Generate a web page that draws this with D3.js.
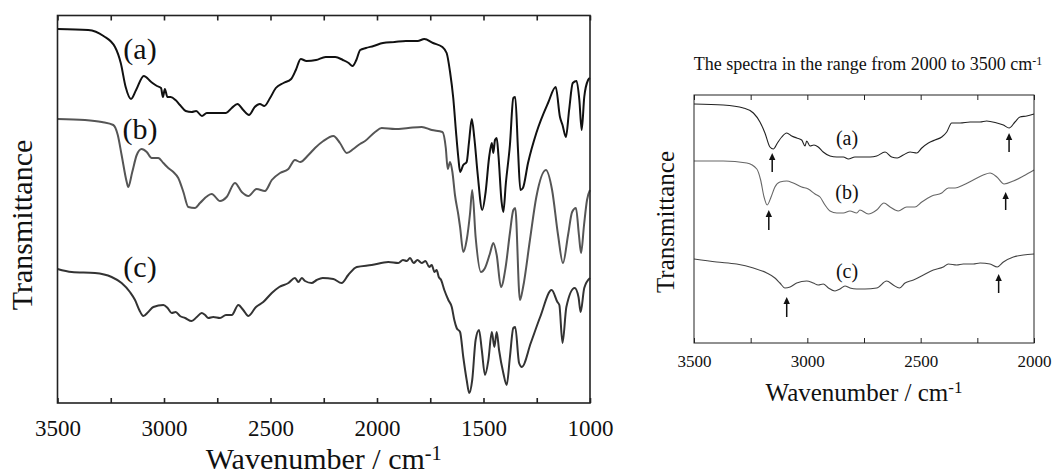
<!DOCTYPE html>
<html>
<head>
<meta charset="utf-8">
<script src="https://cdn.jsdelivr.net/npm/d3@7/dist/d3.min.js"></script>
<style>
  body { margin: 0; background: #fff; }
  svg text { font-family: "Liberation Serif", "Times New Roman", Times, serif; fill: #111; }
</style>
</head>
<body>
<svg id="chart" width="1055" height="474"></svg>
<script>
// full spectra, 3500-1000 cm-1 : [wavenumber, transmittance (a.u.)]
var fullA = [[3500,374],[3356,373],[3284,367],[3230,356],[3203,340],[3180,316],[3155,304],[3131,313],[3095,327],[3060,321],[3033,317],[3014,315],[3005,306],[2996,314],[2984,306],[2969,306],[2946,303],[2925,298],[2898,292],[2870,291],[2849,292],[2822,287],[2799,290],[2762,290],[2709,290],[2682,295],[2655,299],[2628,293],[2601,288],[2574,296],[2550,299],[2529,297],[2502,305],[2475,315],[2439,320],[2403,324],[2381,333],[2358,344],[2331,342],[2286,343],[2241,346],[2196,346],[2160,343],[2133,340],[2115,337],[2097,343],[2079,353],[2052,355],[2016,357],[1972,360],[1917,361],[1864,362],[1809,362],[1778,364],[1737,360],[1693,356],[1673,350],[1657,331],[1642,305],[1629,271],[1618,245],[1610,231],[1595,238],[1579,241],[1568,261],[1555,284],[1543,265],[1527,228],[1506,193],[1490,211],[1474,245],[1461,260],[1454,250],[1446,263],[1438,265],[1430,248],[1415,201],[1407,191],[1395,220],[1376,258],[1360,305],[1351,306],[1338,253],[1327,213],[1315,215],[1291,240],[1252,270],[1197,300],[1161,316],[1141,286],[1129,278],[1113,266],[1098,293],[1081,320],[1063,322],[1050,303],[1039,273],[1027,306],[1009,323],[1000,325]];

var fullB = [[3500,284],[3371,283],[3292,281],[3238,278],[3217,268],[3199,248],[3175,221],[3168,216],[3149,231],[3128,248],[3105,254],[3081,251],[3058,245],[3027,245],[3003,240],[2980,235],[2956,231],[2933,225],[2909,211],[2886,196],[2854,195],[2831,200],[2776,209],[2737,202],[2706,206],[2667,220],[2635,211],[2604,207],[2565,214],[2526,212],[2494,223],[2455,230],[2416,234],[2385,243],[2361,241],[2322,248],[2291,255],[2252,262],[2205,267],[2174,260],[2142,250],[2111,254],[2080,259],[2056,262],[2009,271],[1978,275],[1915,274],[1853,275],[1790,276],[1743,273],[1693,271],[1677,255],[1668,234],[1657,241],[1646,231],[1634,208],[1618,188],[1610,176],[1595,151],[1579,163],[1563,190],[1553,213],[1537,166],[1512,131],[1493,135],[1469,150],[1454,160],[1438,148],[1418,116],[1396,136],[1376,170],[1360,193],[1351,195],[1329,103],[1314,116],[1282,163],[1252,206],[1207,233],[1178,213],[1150,168],[1127,140],[1103,168],[1084,191],[1066,195],[1052,168],[1042,150],[1028,178],[1014,203],[1000,213]];

var fullC = [[3500,134],[3433,131],[3324,130],[3246,126],[3199,120],[3160,111],[3136,103],[3116,93],[3097,87],[3074,91],[3050,96],[3003,98],[2983,95],[2964,90],[2945,91],[2925,87],[2901,85],[2870,82],[2846,86],[2823,90],[2807,88],[2792,85],[2769,86],[2737,85],[2709,88],[2682,88],[2651,98],[2628,93],[2604,87],[2568,96],[2534,101],[2494,110],[2459,116],[2416,120],[2385,125],[2369,121],[2353,125],[2338,122],[2307,120],[2283,123],[2255,125],[2205,124],[2166,120],[2135,128],[2095,136],[2025,138],[1947,141],[1900,140],[1878,143],[1860,142],[1845,145],[1828,140],[1810,143],[1790,140],[1772,142],[1755,136],[1743,138],[1730,131],[1720,133],[1710,126],[1699,123],[1684,113],[1665,103],[1649,96],[1637,83],[1626,75],[1610,71],[1595,46],[1579,23],[1567,10],[1553,23],[1537,63],[1521,73],[1508,53],[1493,28],[1477,43],[1461,71],[1449,56],[1438,71],[1427,53],[1407,30],[1391,18],[1376,46],[1360,75],[1351,76],[1333,40],[1320,36],[1278,60],[1234,86],[1180,113],[1153,101],[1144,98],[1129,60],[1111,96],[1072,115],[1054,106],[1044,91],[1027,115],[1000,125]];

// expanded spectra, 3500-2000 cm-1
var zoomA = [[3500,239],[3371,238],[3282,235],[3238,230],[3209,221],[3187,210],[3165,196],[3150,194],[3132,200],[3113,206],[3091,210],[3069,207],[3047,205],[3025,203],[3010,197],[3003,202],[2988,197],[2971,198],[2952,196],[2930,191],[2900,187],[2870,186],[2841,186],[2819,184],[2790,186],[2768,186],[2723,186],[2694,187],[2657,191],[2628,186],[2603,185],[2577,188],[2547,191],[2517,190],[2495,195],[2466,200],[2437,203],[2407,206],[2385,211],[2363,220],[2326,220],[2282,221],[2238,221],[2209,222],[2164,220],[2135,218],[2110,215],[2084,221],[2062,226],[2032,227],[2000,229]];

var zoomB = [[3500,182],[3371,182],[3267,180],[3223,174],[3206,163],[3191,146],[3177,138],[3160,146],[3143,156],[3121,161],[3091,162],[3062,160],[3025,156],[2996,154],[2966,149],[2944,146],[2922,138],[2900,132],[2870,130],[2841,130],[2812,132],[2782,130],[2768,133],[2731,129],[2694,133],[2662,140],[2635,136],[2599,132],[2562,136],[2525,136],[2495,141],[2451,147],[2407,150],[2378,155],[2348,155],[2312,158],[2268,163],[2224,168],[2194,170],[2164,166],[2132,159],[2091,162],[2047,167],[2000,173]];

var zoomC = [[3500,84],[3400,81],[3312,79],[3238,75],[3179,70],[3143,65],[3121,60],[3099,55],[3076,56],[3047,60],[3003,62],[2974,60],[2952,58],[2930,59],[2907,55],[2878,52],[2856,54],[2834,57],[2812,55],[2782,54],[2746,54],[2694,55],[2650,62],[2621,58],[2594,55],[2569,60],[2532,63],[2488,68],[2444,73],[2400,76],[2378,79],[2341,78],[2312,79],[2268,79],[2238,80],[2194,79],[2162,76],[2135,81],[2091,86],[2047,88],[2000,89]];

// arrows in the expanded panel: wavenumber, tip and tail transmittance
var arrowWave = [3155, 2110, 3170, 2125, 3091, 2156];
var arrowTip  = [190, 210, 133, 151, 46, 69];
var arrowTail = [171, 191, 113, 133, 26, 50];

var leftTickLabels = [3500, 3000, 2500, 2000, 1500, 1000];
var rightTickLabels = [3500, 3000, 2500, 2000];
var seriesNames = ['(a)', '(b)', '(c)'];

var serif = '"Liberation Serif", "Times New Roman", Times, serif';
var svg = d3.select('#chart');

function addTitle(sel, size) {
  sel.style('font-size', size + 'px');
  sel.append('tspan').text('Wavenumber / cm');
  sel.append('tspan').attr('dy', '-0.45em').style('font-size', (size * 0.68) + 'px').text('-1');
}

function drawPanel(p) {
  var x = d3.scaleLinear().domain([3500, p.xEnd]).range([p.left, p.right]);
  var y = d3.scaleLinear().domain([0, p.yMax]).range([p.bottom, p.top]);
  var g = svg.append('g');

  // minor + major ticks, inward, top and bottom
  var allTicks = d3.range(3500, p.xEnd - 1, -250);
  g.append('g')
    .attr('transform', 'translate(0,' + p.bottom + ')')
    .call(d3.axisBottom(x).tickValues(allTicks).tickSize(-p.tick).tickSizeOuter(0)
      .tickFormat(function(d) { return p.labels.indexOf(d) >= 0 ? d : ''; }))
    .call(function(a) {
      a.attr('font-family', serif);
      a.select('.domain').remove();
      a.selectAll('line').attr('stroke', '#222').attr('stroke-width', p.frameW);
      a.selectAll('text').attr('y', p.labelDy).attr('font-family', serif)
        .style('font-family', serif).style('font-size', p.tickFont + 'px').attr('fill', '#111');
    });
  g.append('g')
    .attr('transform', 'translate(0,' + p.top + ')')
    .call(d3.axisTop(x).tickValues(allTicks).tickSize(-p.tick).tickSizeOuter(0).tickFormat(''))
    .call(function(a) {
      a.select('.domain').remove();
      a.selectAll('line').attr('stroke', '#222').attr('stroke-width', p.frameW);
    });

  var line = d3.line()
    .x(function(d) { return x(d[0]); })
    .y(function(d) { return y(d[1]); })
    .curve(d3.curveMonotoneX);

  g.selectAll('path.spec')
    .data(p.series)
    .enter()
    .append('path')
    .attr('class', 'spec')
    .attr('d', line)
    .attr('fill', 'none')
    .attr('stroke', function(d, i) { return p.colors[i]; })
    .attr('stroke-width', p.lineW)
    .attr('stroke-linejoin', 'round');

  g.append('rect')
    .attr('x', p.left).attr('y', p.top)
    .attr('width', p.right - p.left).attr('height', p.bottom - p.top)
    .attr('fill', 'none').attr('stroke', '#222').attr('stroke-width', p.frameW);

  g.selectAll('text.lab')
    .data(seriesNames)
    .enter()
    .append('text')
    .attr('class', 'lab')
    .attr('x', p.labX)
    .attr('y', function(d, i) { return p.labY[i]; })
    .attr('text-anchor', 'middle')
    .style('font-size', p.labFont + 'px')
    .text(function(d) { return d; });

  g.append('text')
    .attr('transform', 'translate(' + p.yTitleX + ',' + p.yTitleY + ') rotate(-90)')
    .attr('text-anchor', 'middle')
    .style('font-size', p.titleFont + 'px')
    .text('Transmittance');

  g.append('text')
    .attr('x', (p.left + p.right) / 2)
    .attr('y', p.xTitleY)
    .attr('text-anchor', 'middle')
    .call(addTitle, p.titleFont);

  return { x: x, y: y, g: g };
}

drawPanel({
  left: 57.5, right: 590, top: 15.5, bottom: 403, xEnd: 1000, yMax: 387.5,
  series: [fullA, fullB, fullC], colors: ['#111', '#555', '#333'], lineW: 2,
  labels: leftTickLabels, tick: 5, frameW: 1.6, tickFont: 23, labelDy: 17,
  labX: 140, labY: [59, 139, 277], labFont: 30,
  titleFont: 30, yTitleX: 32, yTitleY: 225, xTitleY: 469
});

var right = drawPanel({
  left: 694, right: 1034, top: 95, bottom: 343, xEnd: 2000, yMax: 248,
  series: [zoomA, zoomB, zoomC], colors: ['#222', '#666', '#444'], lineW: 1.1,
  labels: rightTickLabels, tick: 5, frameW: 1, tickFont: 17, labelDy: 12,
  labX: 847, labY: [145, 199, 278], labFont: 20,
  titleFont: 25, yTitleX: 674, yTitleY: 222, xTitleY: 401
});

// arrows marking the bands
var arrows = arrowWave.map(function(w, i) { return { w: w, tip: arrowTip[i], tail: arrowTail[i] }; });
var ag = right.g.selectAll('g.arrow').data(arrows).enter().append('g').attr('class', 'arrow');
ag.append('line')
  .attr('x1', function(d) { return right.x(d.w); })
  .attr('x2', function(d) { return right.x(d.w); })
  .attr('y1', function(d) { return right.y(d.tail); })
  .attr('y2', function(d) { return right.y(d.tip) + 5; })
  .attr('stroke', '#111').attr('stroke-width', 1.5);
ag.append('path')
  .attr('d', function(d) {
    var cx = right.x(d.w), ty = right.y(d.tip);
    return 'M' + cx + ',' + ty + 'L' + (cx - 3.2) + ',' + (ty + 7) + 'L' + (cx + 3.2) + ',' + (ty + 7) + 'Z';
  })
  .attr('fill', '#111');

// heading over the expanded panel
var head = svg.append('text')
  .attr('x', 868).attr('y', 70)
  .attr('text-anchor', 'middle')
  .style('font-size', '18px');
head.append('tspan').text('The spectra in the range from 2000 to 3500 cm');
head.append('tspan').attr('dy', '-0.45em').style('font-size', '12px').text('-1');
</script>
</body>
</html>
